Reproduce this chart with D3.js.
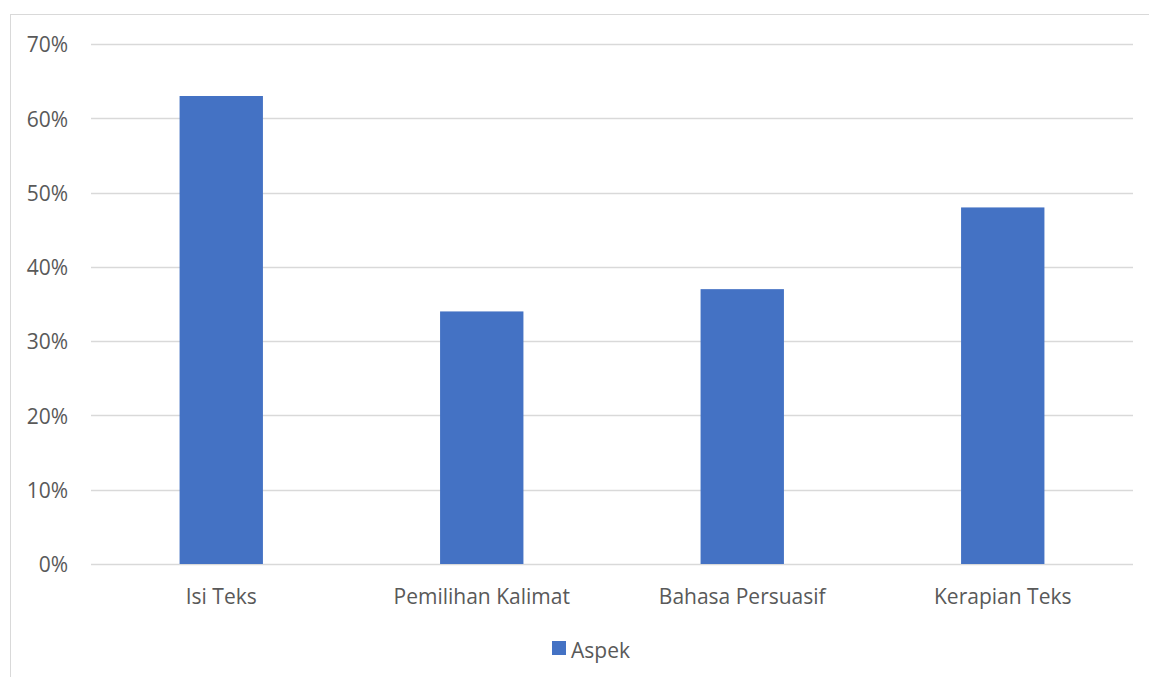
<!DOCTYPE html>
<html>
<head>
<meta charset="utf-8">
<script src="https://cdn.jsdelivr.net/npm/d3@7"></script>
<style>
  body { margin: 0; background: #fff; }
  text { font-family: "Open Sans", sans-serif; fill: #595959; }
</style>
</head>
<body>
<script>
var categories = ["Isi Teks", "Pemilihan Kalimat", "Bahasa Persuasif", "Kerapian Teks"];
var values = [0.63, 0.34, 0.37, 0.48];
var yTicks = [0, 0.1, 0.2, 0.3, 0.4, 0.5, 0.6, 0.7];
var seriesName = "Aspek";

var width = 1149;
var height = 677;

var svg = d3.select("body")
    .append("svg")
    .attr("width", width)
    .attr("height", height);

// chart border
svg.append("rect")
    .attr("x", 10.5)
    .attr("y", 14.5)
    .attr("width", width + 20)
    .attr("height", height + 20)
    .attr("fill", "none")
    .attr("stroke", "#d9d9d9");

var x = d3.scaleBand()
    .domain(categories)
    .range([91, 1133])
    .paddingInner(0.68)
    .paddingOuter(0.34);

var y = d3.scaleLinear()
    .domain([0, 0.7])
    .range([564, 44]);

// gridlines
svg.append("g")
    .selectAll("line")
    .data(yTicks)
    .join("line")
    .attr("x1", 91)
    .attr("x2", 1133)
    .attr("y1", d => Math.round(y(d)) + 0.5)
    .attr("y2", d => Math.round(y(d)) + 0.5)
    .attr("stroke", "#d9d9d9")
    .attr("stroke-width", 1.5);

// y labels
svg.append("g")
    .selectAll("text")
    .data(yTicks)
    .join("text")
    .attr("x", 68)
    .attr("y", d => y(d) + 1)
    .attr("dy", "0.35em")
    .attr("text-anchor", "end")
    .style("font-size", "21px")
    .text(d => d3.format(".0%")(d));

// bars
svg.append("g")
    .selectAll("rect")
    .data(values)
    .join("rect")
    .attr("x", (d, i) => x(categories[i]))
    .attr("width", x.bandwidth())
    .attr("y", d => y(d))
    .attr("height", d => y(0) - y(d))
    .attr("fill", "#4472C4");

// x labels
svg.append("g")
    .selectAll("text")
    .data(categories)
    .join("text")
    .attr("x", d => x(d) + x.bandwidth() / 2)
    .attr("y", 604)
    .attr("text-anchor", "middle")
    .style("font-size", "21px")
    .text(d => d);

// legend
var legend = svg.append("g");
legend.append("rect")
    .attr("x", 552)
    .attr("y", 641)
    .attr("width", 14)
    .attr("height", 14)
    .attr("fill", "#4472C4");
legend.append("text")
    .attr("x", 571)
    .attr("y", 658)
    .style("font-size", "21px")
    .text(seriesName);
</script>
</body>
</html>
